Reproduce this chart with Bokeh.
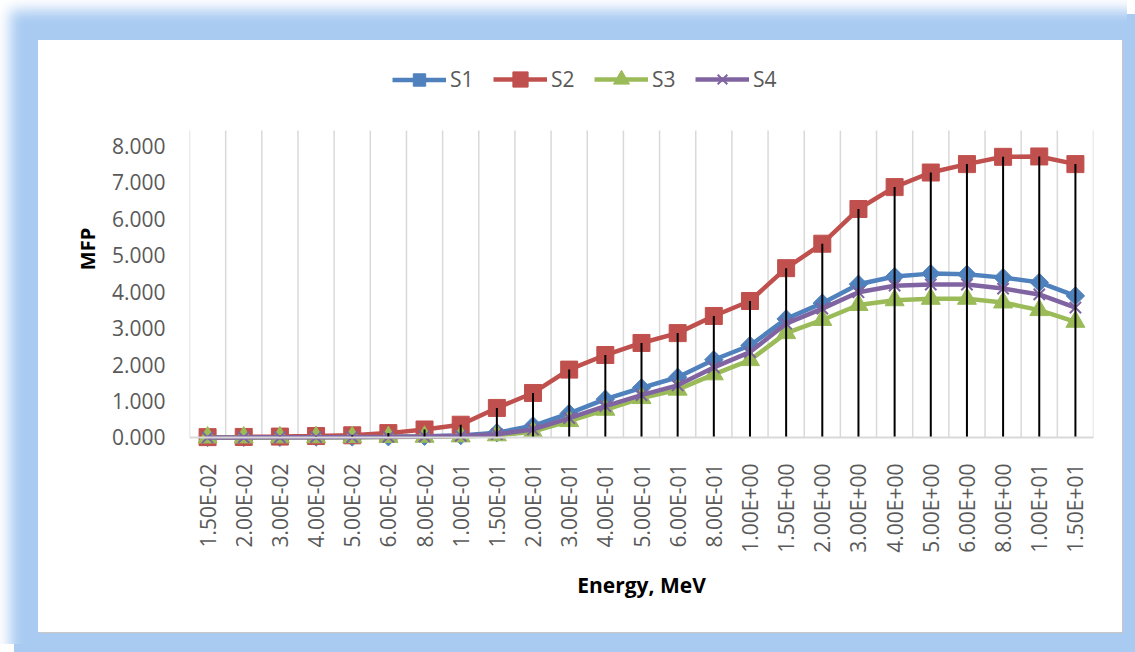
import math
from bokeh.plotting import figure
from bokeh.models import (Legend, LegendItem, FixedTicker, Range1d, Span,
                          ColumnDataSource)
from bokeh.layouts import column
from bokeh.embed import file_html
from bokeh.resources import INLINE

categories = ["1.50E-02", "2.00E-02", "3.00E-02", "4.00E-02", "5.00E-02",
              "6.00E-02", "8.00E-02", "1.00E-01", "1.50E-01", "2.00E-01",
              "3.00E-01", "4.00E-01", "5.00E-01", "6.00E-01", "8.00E-01",
              "1.00E+00", "1.50E+00", "2.00E+00", "3.00E+00", "4.00E+00",
              "5.00E+00", "6.00E+00", "8.00E+00", "1.00E+01", "1.50E+01"]

s1 = [0.002, 0.004, 0.007, 0.011, 0.016, 0.022, 0.035, 0.055, 0.13, 0.32,
      0.66, 1.05, 1.36, 1.65, 2.13, 2.52, 3.25, 3.68, 4.20, 4.41, 4.49, 4.47,
      4.38, 4.25, 3.88]
s2 = [0.010, 0.015, 0.025, 0.040, 0.060, 0.12, 0.22, 0.35, 0.81, 1.22, 1.86,
      2.26, 2.59, 2.86, 3.33, 3.74, 4.64, 5.31, 6.26, 6.86, 7.26, 7.49, 7.69,
      7.70, 7.49]
s3 = [0.001, 0.002, 0.004, 0.006, 0.009, 0.013, 0.02, 0.03, 0.06, 0.16, 0.45,
      0.76, 1.08, 1.31, 1.73, 2.12, 2.86, 3.22, 3.63, 3.76, 3.80, 3.80, 3.70,
      3.49, 3.17]
s4 = [0.002, 0.003, 0.006, 0.009, 0.013, 0.018, 0.028, 0.045, 0.09, 0.22,
      0.53, 0.86, 1.16, 1.43, 1.92, 2.34, 3.12, 3.53, 3.98, 4.16, 4.19, 4.19,
      4.08, 3.92, 3.56]

series_names = ["S1", "S2", "S3", "S4"]
y_ticks = [0, 1, 2, 3, 4, 5, 6, 7, 8]

n = len(categories)
xs = [i + 0.5 for i in range(n)]
Y_START, Y_END = -0.274, 10.603
GRID_TOP = 8.411  # top of the plot area (gridlines end here)

p = figure(width=1084, height=592, output_backend="svg", toolbar_location=None,
           x_range=Range1d(0, n), y_range=Range1d(Y_START, Y_END),
           min_border_left=151, min_border_right=29, min_border_top=10,
           min_border_bottom=185, outline_line_color=None,
           background_fill_color="white", border_fill_color="white")

p.xgrid.visible = False
p.ygrid.visible = False

# category boundary grid lines
p.segment(x0=list(range(n + 1)), y0=[0] * (n + 1), x1=list(range(n + 1)),
          y1=[GRID_TOP] * (n + 1), line_color="#D9D9D9", line_width=1.5)
p.add_layout(Span(location=0, dimension="width", line_color="#D9D9D9",
                  line_width=2))

colors = ["#4F81BD", "#C0504D", "#9BBB59", "#8064A2"]
data = [s1, s2, s3, s4]
legend_glyph_h = [31, 38, 40, 34]
legend_x = [203, 304, 405, 506]
renderers = []
for name, col, ys in zip(series_names, colors, data):
    src = ColumnDataSource(dict(x=xs, y=ys))
    lr = p.line("x", "y", source=src, line_color=col, line_width=4.5)
    if name == "S1":
        sr = p.scatter("x", "y", source=src, marker="square", size=13,
                       angle=math.pi / 4, fill_color=col, line_color=col)
    elif name == "S2":
        sr = p.scatter("x", "y", source=src, marker="square", size=17,
                       fill_color=col, line_color=col)
    elif name == "S3":
        sr = p.scatter("x", "y", source=src, marker="triangle", size=19,
                       fill_color=col, line_color=col)
    else:
        sr = p.scatter("x", "y", source=src, marker="x", size=16,
                       line_color=col, line_width=2)
    renderers.append((lr, sr))

# drop lines from highest point down to the axis
tops = [max(v) for v in zip(s1, s2, s3, s4)]
p.segment(x0=xs, y0=[0] * n, x1=xs, y1=tops, line_color="black", line_width=2)

for name, (lr, sr), gh, lx in zip(series_names, renderers, legend_glyph_h,
                                  legend_x):
    lg = Legend(items=[LegendItem(label=name, renderers=[lr, sr])],
                orientation="horizontal", location=(lx, 368 - gh / 2),
                border_line_color=None, background_fill_alpha=0, padding=0,
                margin=0, spacing=0, glyph_width=54, glyph_height=gh,
                label_standoff=4, label_height=20, label_text_font_size="21px",
                label_text_color="#595959", label_text_font="Open Sans")
    p.add_layout(lg, "center")

font = "Open Sans"
p.xaxis.ticker = FixedTicker(ticks=xs)
p.xaxis.major_label_overrides = {x: c for x, c in zip(xs, categories)}
p.xaxis.major_label_orientation = math.pi / 2
p.xaxis.axis_line_color = None
p.xaxis.major_tick_line_color = None
p.xaxis.minor_tick_line_color = None
p.xaxis.major_label_standoff = 10
p.xaxis.major_label_text_font = font
p.xaxis.major_label_text_font_size = "21px"
p.xaxis.major_label_text_color = "#595959"
p.xaxis.axis_label = "Energy, MeV"
p.xaxis.axis_label_text_font = font
p.xaxis.axis_label_text_font_style = "bold"
p.xaxis.axis_label_text_font_size = "21px"
p.xaxis.axis_label_text_color = "black"
p.xaxis.axis_label_standoff = 15

p.yaxis.ticker = FixedTicker(ticks=y_ticks)
p.yaxis.major_label_overrides = {t: f"{t:.3f}" for t in y_ticks}
p.yaxis.axis_line_color = None
p.yaxis.major_tick_line_color = None
p.yaxis.minor_tick_line_color = None
p.yaxis.major_label_standoff = 18
p.yaxis.major_label_text_font = font
p.yaxis.major_label_text_font_size = "21px"
p.yaxis.major_label_text_color = "#595959"
p.yaxis.axis_label = "MFP"
p.yaxis.axis_label_text_font = font
p.yaxis.axis_label_text_font_style = "bold"
p.yaxis.axis_label_text_font_size = "20px"
p.yaxis.axis_label_text_color = "black"
p.yaxis.axis_label_standoff = 8

inner = column(p, styles={"background-color": "white",
                          "box-shadow": "1px 1px 1px 0 #c8c8c8"})
layout = column(inner, styles={"background-color": "#A9CBF2",
                               "padding": "40px 5px 12px 38px",
                               "box-shadow": "inset 12px 12px 14px -2px #ffffff, 14px 14px 0 0 #A9CBF2"})

open("out.html", "w").write(file_html(layout, INLINE))
